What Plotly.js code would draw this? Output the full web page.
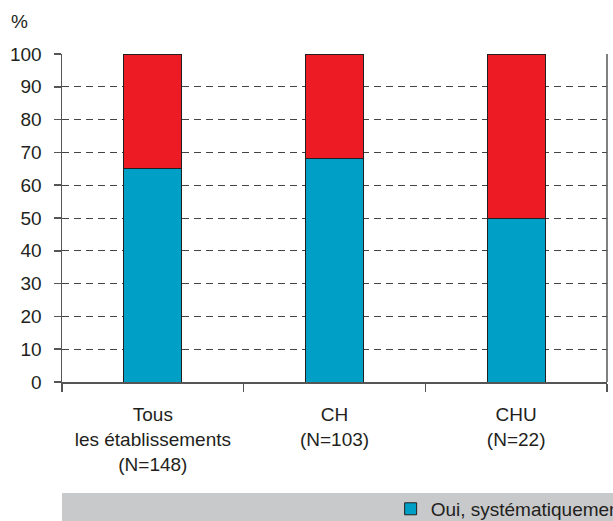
<!DOCTYPE html>
<html>
<head>
<meta charset="utf-8">
<script src="https://cdn.plot.ly/plotly-3.0.1.min.js"></script>
<style>html,body{margin:0;padding:0;background:#fff;overflow:hidden;}</style>
</head>
<body>
<div id="chart" style="width:613px;height:521px;"></div>
<script>
const categories = ["Tous<br>les établissements<br>(N=148)", "CH<br>(N=103)", "CHU<br>(N=22)"];
const ouiSystematiquement = [65, 68, 50];
const autre = [35, 32, 50];
const yTickValues = [0, 10, 20, 30, 40, 50, 60, 70, 80, 90, 100];
const seriesNames = ["Oui, systématiquement", "Non"];

const fontFamily = "Liberation Sans, Arial, sans-serif";
const textColor = "#231f20";

const traces = [
  {
    type: "bar", x: categories, y: ouiSystematiquement, name: seriesNames[0],
    marker: {color: "#00a0c6", line: {color: "#231f20", width: 1}},
    width: 0.32, showlegend: true, hoverinfo: "skip"
  },
  {
    type: "bar", x: categories, y: autre, name: seriesNames[1],
    marker: {color: "#ed1c24", line: {color: "#231f20", width: 1}},
    width: 0.32, showlegend: false, hoverinfo: "skip"
  }
];

const layout = {
  width: 613, height: 521,
  margin: {l: 62, r: 6, t: 54, b: 139, pad: 0, autoexpand: false},
  barmode: "stack",
  paper_bgcolor: "#ffffff", plot_bgcolor: "#ffffff",
  font: {family: fontFamily, size: 19, color: textColor},
  xaxis: {
    type: "category",
    tickson: "boundaries",
    ticks: "outside", ticklen: 8, tickcolor: "#555", tickwidth: 1.5,
    showline: true, linecolor: "#555", linewidth: 1.5,
    showgrid: false, zeroline: false,
    automargin: false,
    ticklabelstandoff: 15,
    tickfont: {family: fontFamily, size: 19, color: textColor}
  },
  yaxis: {
    range: [0, 100],
    tickvals: yTickValues,
    ticks: "outside", ticklen: 7, tickcolor: "#555", tickwidth: 1.5,
    showline: true, linecolor: "#555", linewidth: 1.5,
    showgrid: true, gridcolor: "#444", gridwidth: 1, griddash: "7px,5px",
    zeroline: false,
    automargin: false,
    ticklabelstandoff: 8,
    tickfont: {family: fontFamily, size: 19, color: textColor}
  },
  legend: {
    orientation: "h",
    x: 0.603, xanchor: "left",
    y: -0.387, yanchor: "middle",
    bgcolor: "rgba(0,0,0,0)",
    font: {family: fontFamily, size: 19, color: textColor}
  },
  shapes: [
    {type: "rect", xref: "paper", yref: "paper", x0: 0, x1: 1.05, y0: -0.3384, y1: -0.45,
     fillcolor: "#c8c9cb", line: {width: 0}, layer: "below"},
    {type: "line", xref: "paper", yref: "paper", x0: 1, x1: 1, y0: 0, y1: 1,
     line: {color: "#555", width: 1.5}}
  ],
  annotations: [
    {text: "%", xref: "paper", yref: "paper", x: -0.078, y: 1.10, xanchor: "center", yanchor: "middle",
     showarrow: false, font: {family: fontFamily, size: 19, color: textColor}}
  ]
};

Plotly.newPlot("chart", traces, layout, {displayModeBar: false, staticPlot: true});
</script>
</body>
</html>
